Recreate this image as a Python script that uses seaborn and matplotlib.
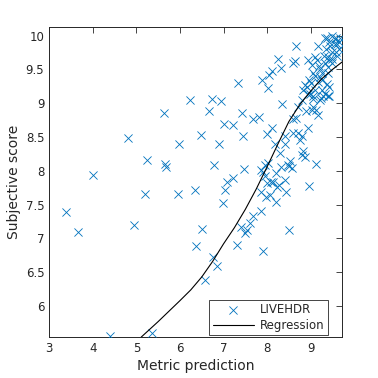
import numpy as np
import pandas as pd
import matplotlib
matplotlib.use("Agg")
import matplotlib.pyplot as plt
import seaborn as sns

# Scatter data (metric prediction vs subjective score)
metric_pred = [
    3.39, 3.66, 4.01, 4.40, 4.80, 4.95, 5.20, 5.25, 5.36, 5.64, 5.66, 5.68, 5.95, 5.98,
    6.24, 6.73, 6.95, 6.67, 7.33, 7.89, 8.01, 8.04, 8.11, 7.43, 7.68, 7.82, 7.01, 7.22,
    6.48, 7.45, 8.00, 8.11, 6.90, 6.79, 7.47, 7.22, 7.09, 7.03, 6.34, 6.99, 6.51, 7.87,
    7.95, 8.02, 7.95, 7.99, 7.85, 7.97, 7.85, 7.68, 7.60, 7.55, 7.41, 7.49, 6.36, 6.76,
    6.86, 6.57, 7.31, 7.91, 8.06, 8.14, 8.20, 8.23, 8.27, 8.40, 8.44, 8.21, 8.50, 8.96,
    8.33, 8.50, 8.56, 9.13, 7.91, 8.10, 8.34, 8.40, 8.59, 8.66, 8.90, 9.02, 9.13, 9.17,
    9.05, 8.71, 8.79, 8.75, 8.94, 8.59, 8.82, 8.79, 8.86, 8.18, 8.40, 8.29, 8.52, 8.48,
    8.98, 9.05, 9.28, 9.43, 9.24, 8.66, 8.25, 8.63, 8.59, 8.33,
    9.32, 9.48, 9.59, 9.66, 9.43, 9.55, 9.59, 9.48, 9.39, 9.32, 9.43, 9.50, 9.39, 9.21,
    9.14, 9.02, 8.93, 9.05, 9.21, 9.27, 9.37, 9.16, 8.91, 8.82, 8.93, 9.05, 9.25, 9.32,
    9.39, 9.43, 9.21, 8.86, 9.17, 9.09, 9.38, 9.68, 9.64,
    9.00, 9.10, 9.20, 9.30, 9.35, 9.45, 9.55, 9.60, 9.50, 9.25, 9.10, 8.95, 8.80, 8.70,
    9.60, 9.40,
]
subjective = [
    7.39, 7.10, 7.94, 5.56, 8.48, 7.20, 7.66, 8.16, 5.60, 8.85, 8.10, 8.05, 7.66, 8.40,
    9.05, 9.06, 9.04, 8.89, 9.30, 9.35, 9.23, 9.42, 9.48, 8.85, 8.77, 8.80, 8.70, 8.68,
    8.53, 8.52, 8.54, 8.64, 8.39, 8.08, 8.03, 7.89, 7.83, 7.71, 7.71, 7.52, 7.14, 8.01,
    8.09, 8.11, 7.92, 7.82, 7.69, 7.62, 7.40, 7.33, 7.23, 7.13, 7.17, 7.08, 6.89, 6.72,
    6.59, 6.39, 6.90, 6.81, 7.64, 7.84, 7.97, 7.76, 7.79, 7.87, 7.69, 7.54, 7.12, 7.77,
    8.06, 8.07, 8.04, 8.10, 7.99, 7.83, 8.99, 8.51, 8.76, 8.78, 8.88, 8.90, 8.90, 8.83,
    8.95, 8.56, 8.51, 8.46, 8.63, 8.56, 8.29, 8.24, 8.21, 8.39, 8.39, 8.26, 8.14, 8.09,
    9.13, 9.10, 9.10, 9.10, 9.08, 9.85, 9.66, 9.62, 9.60, 9.52,
    9.97, 9.99, 9.96, 9.91, 9.91, 9.87, 9.76, 9.76, 9.69, 9.59, 9.64, 9.59, 9.54, 9.50,
    9.64, 9.57, 9.64, 9.44, 9.39, 9.35, 9.29, 9.32, 9.24, 9.20, 9.13, 9.07, 9.20, 9.14,
    9.10, 9.24, 9.05, 9.27, 9.84, 9.69, 9.97, 9.97, 9.80,
    9.30, 9.40, 9.55, 9.70, 9.80, 9.85, 9.95, 9.70, 9.65, 9.45, 9.20, 9.35, 9.05, 8.95,
    9.88, 9.45,
]

# Regression curve
reg_x = [5.11, 5.50, 6.00, 6.25, 6.50, 6.75, 7.00, 7.25, 7.50, 7.75, 8.00, 8.25, 8.50, 8.75, 9.00, 9.25, 9.50, 9.72]
reg_y = [5.54, 5.77, 6.08, 6.24, 6.43, 6.66, 6.92, 7.16, 7.43, 7.73, 8.06, 8.40, 8.73, 8.98, 9.18, 9.36, 9.50, 9.61]

x_ticks = [3, 4, 5, 6, 7, 8, 9]
y_ticks = [6, 6.5, 7, 7.5, 8, 8.5, 9, 9.5, 10]
y_tick_labels = ["6", "6.5", "7", "7.5", "8", "8.5", "9", "9.5", "10"]

sns.set_style("white")
plt.rcParams['font.family'] = ['DejaVu Sans']
text_color = "#262626"

fig = plt.figure(figsize=(3.78, 3.78), dpi=100)
ax = fig.add_axes([0.130, 0.108, 0.775, 0.821])

scatter_df = pd.DataFrame({"Metric prediction": metric_pred, "Subjective score": subjective})
reg_df = pd.DataFrame({"x": reg_x, "y": reg_y})

sns.scatterplot(data=scatter_df, x="Metric prediction", y="Subjective score", ax=ax,
                marker="x", color="#0072BD", s=34, linewidth=0.6, label="LIVEHDR", zorder=3)
sns.lineplot(data=reg_df, x="x", y="y", ax=ax, color="black", linewidth=0.8,
             sort=False, estimator=None, label="Regression", zorder=4)

ax.set_xlim(3, 9.72)
ax.set_ylim(5.54, 10.13)
ax.set_xticks(x_ticks)
ax.set_yticks(y_ticks)
ax.set_yticklabels(y_tick_labels)
ax.tick_params(direction="in", length=4, width=0.6, colors=text_color, labelsize=8.5,
               top=True, right=True, labeltop=False, labelright=False)
for sp in ax.spines.values():
    sp.set_color(text_color)
    sp.set_linewidth(0.7)

ax.set_xlabel("Metric prediction", fontsize=10, color=text_color, labelpad=3)
ax.set_ylabel("Subjective score", fontsize=10, color=text_color, labelpad=3)

leg = ax.legend(loc="lower right", bbox_to_anchor=(0.952, 0.006), borderaxespad=0,
                fancybox=False, framealpha=1, edgecolor=text_color, fontsize=8.5,
                handlelength=3.5, borderpad=0.3, labelspacing=0.2, handletextpad=0.5)
leg.get_frame().set_linewidth(0.6)
for t in leg.get_texts():
    t.set_color(text_color)

fig.savefig("out.png", dpi=100)
